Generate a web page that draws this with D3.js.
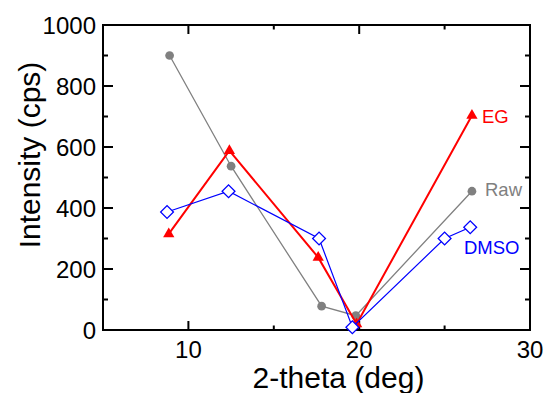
<!DOCTYPE html>
<html>
<head>
<meta charset="utf-8">
<script src="https://cdn.jsdelivr.net/npm/d3@7"></script>
<style>
  html, body { margin: 0; padding: 0; background: #fff; }
  svg { display: block; font-family: "Liberation Sans", Arial, sans-serif; }
</style>
</head>
<body>
<svg id="chart" width="545" height="393"></svg>
<script>
// ---- data ----
const rawX  = [8.9, 12.5, 17.8, 19.8, 26.6];
const rawY  = [900, 537, 78, 47, 455];
const egX   = [8.85, 12.4, 17.6, 19.85, 26.6];
const egY   = [315, 588, 238, 20, 703];
const dmsoX = [8.75, 12.35, 17.65, 19.6, 25.0, 26.5];
const dmsoY = [387, 455, 300, 9, 300, 337];
const xTicks = [10, 20, 30];
const xMinor = [15, 25];
const yTicks = [0, 200, 400, 600, 800, 1000];
const yMinor = [100, 300, 500, 700, 900];
const seriesNames = ["Raw", "EG", "DMSO"];

// ---- layout ----
const L = 103, R = 530, T = 25, B = 330;
const svg = d3.select("#chart");
const x = d3.scaleLinear().domain([5, 30]).range([L, R]);
const y = d3.scaleLinear().domain([0, 1000]).range([B, T]);

// ticks (inward on all sides)
const tg = svg.append("g").attr("stroke", "#000").attr("stroke-width", 2);
xTicks.concat(xMinor).forEach(v => {
  const len = xTicks.includes(v) ? 9 : 4.5;
  tg.append("line").attr("x1", x(v)).attr("x2", x(v)).attr("y1", B).attr("y2", B - len);
  tg.append("line").attr("x1", x(v)).attr("x2", x(v)).attr("y1", T).attr("y2", T + len);
});
yTicks.concat(yMinor).forEach(v => {
  const len = yTicks.includes(v) ? 10 : 5;
  tg.append("line").attr("y1", y(v)).attr("y2", y(v)).attr("x1", L).attr("x2", L + len);
  tg.append("line").attr("y1", y(v)).attr("y2", y(v)).attr("x1", R).attr("x2", R - len);
});

// frame
svg.append("rect").attr("x", L).attr("y", T).attr("width", R - L).attr("height", B - T)
  .attr("fill", "none").attr("stroke", "#000").attr("stroke-width", 2);

// tick labels
svg.append("g").selectAll("text").data(xTicks).join("text")
  .attr("x", d => x(d)).attr("y", 357.5).attr("text-anchor", "middle")
  .attr("font-size", 24).attr("fill", "#000").text(d => d);
svg.append("g").selectAll("text").data(yTicks).join("text")
  .attr("x", L - 7).attr("y", d => y(d)).attr("dy", "0.36em").attr("text-anchor", "end")
  .attr("font-size", 24).attr("fill", "#000").text(d => d);

// axis titles
svg.append("text").attr("x", 338.5).attr("y", 387.5).attr("text-anchor", "middle")
  .attr("font-size", 30).attr("fill", "#000").text("2-theta (deg)");
svg.append("text").attr("transform", "translate(40,155) rotate(-90)")
  .attr("text-anchor", "middle").attr("font-size", 30).attr("fill", "#000").text("Intensity (cps)");

// series
const line = d3.line().x(d => x(d[0])).y(d => y(d[1]));
const zip = (a, b) => a.map((v, i) => [v, b[i]]);

const series = [
  { name: seriesNames[0], pts: zip(rawX, rawY), color: "#808080", width: 1.3,
    sym: d3.symbolCircle, size: 60, fill: "#808080", rot: 0 },
  { name: seriesNames[1], pts: zip(egX, egY), color: "#ff0000", width: 2,
    sym: d3.symbolTriangle, size: 55, fill: "#ff0000", rot: 0 },
  { name: seriesNames[2], pts: zip(dmsoX, dmsoY), color: "#0000ff", width: 1.2,
    sym: d3.symbolSquare, size: 82, fill: "#ffffff", rot: 45 }
];

series.forEach(s => {
  const g = svg.append("g");
  g.append("path").attr("d", line(s.pts)).attr("fill", "none")
    .attr("stroke", s.color).attr("stroke-width", s.width);
  g.selectAll("path.m").data(s.pts).join("path").attr("class", "m")
    .attr("d", d3.symbol().type(s.sym).size(s.size))
    .attr("transform", d => `translate(${x(d[0])},${y(d[1])}) rotate(${s.rot})`)
    .attr("fill", s.fill).attr("stroke", s.color)
    .attr("stroke-width", s.sym === d3.symbolSquare ? 1.3 : 0);
});

// series labels
const labels = [
  { text: seriesNames[1], x: 482, y: 123.3, color: "#ff0000" },
  { text: seriesNames[0], x: 485, y: 196, color: "#808080" },
  { text: seriesNames[2], x: 464, y: 254, color: "#0000ff" }
];
svg.append("g").selectAll("text").data(labels).join("text")
  .attr("x", d => d.x).attr("y", d => d.y).attr("font-size", 18.5)
  .attr("fill", d => d.color).text(d => d.text);
</script>
</body>
</html>
